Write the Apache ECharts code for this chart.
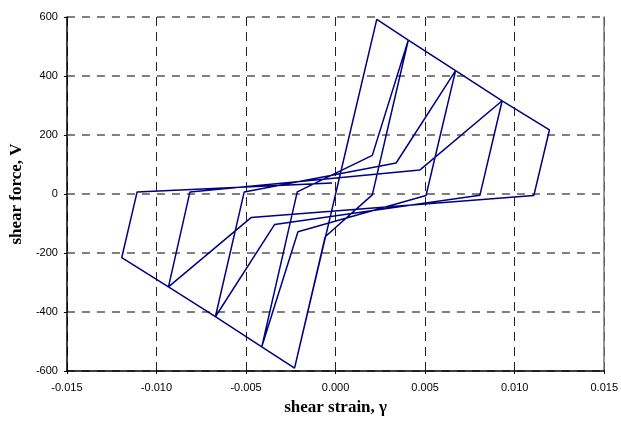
<!DOCTYPE html>
<html>
<head>
<meta charset="utf-8">
<script src="https://cdn.jsdelivr.net/npm/echarts@6/dist/echarts.min.js"></script>
<style>
html,body{margin:0;padding:0;background:#fff;}
#chart{width:621px;height:421px;}
</style>
</head>
<body>
<div id="chart"></div>
<script>
// Hysteresis path: shear strain (gamma) and shear force (V), in drawing order
const strain = [0, 0.0023, -0.00229, 0.0023, 0.00406, 0.00205, -0.00058, -0.00229, -0.00412, -0.00214,
  0.00205, 0.00406, 0.0067, 0.00505, -0.0021, -0.00412, -0.00671, -0.0051, 0.00338, 0.0067,
  0.0093, 0.00806, -0.0034, -0.00671, -0.00933, -0.00813, 0.0047, 0.0093, 0.01194, 0.01107,
  -0.00472, -0.00933, -0.01194, -0.01108, -0.0002];
const force = [0, 592, -590, 592, 522, -3, -145, -590, -518, 7,
  131, 522, 418, -5, -128, -518, -416, 7, 105, 418,
  316, -4, -103, -416, -315, 7, 81, 316, 217, -5,
  -80, -315, -216, 7, 37];

const xTicks = [-0.015, -0.010, -0.005, 0.000, 0.005, 0.010, 0.015];
const yTicks = [-600, -400, -200, 0, 200, 400, 600];

const points = strain.map((x, i) => [x, force[i]]);

const chart = echarts.init(document.getElementById('chart'), null, {renderer: 'canvas'});
chart.setOption({
  animation: false,
  backgroundColor: '#fff',
  grid: {left: 64, right: 14, top: 17, bottom: 48, containLabel: false},
  xAxis: {
    type: 'value',
    min: xTicks[0], max: xTicks[xTicks.length - 1], interval: 0.005,
    name: 'shear strain, γ',
    nameLocation: 'middle', nameGap: 28,
    nameTextStyle: {fontFamily: 'Liberation Serif', fontWeight: 'bold', fontSize: 17, color: '#000'},
    axisLine: {show: true, onZero: false, lineStyle: {color: '#000', width: 1.5}},
    axisTick: {show: true, length: 3, inside: false, lineStyle: {color: '#000'}},
    axisLabel: {margin: 11, fontFamily: 'Liberation Sans', fontSize: 11, color: '#000',
      formatter: v => (Math.abs(v) < 1e-9 ? 0 : v).toFixed(3)},
    splitLine: {show: true, lineStyle: {color: '#222', width: 1, type: [9, 6]}}
  },
  yAxis: [{
    type: 'value',
    min: yTicks[0], max: yTicks[yTicks.length - 1], interval: 200,
    name: 'shear force, V',
    nameLocation: 'middle', nameGap: 38,
    nameTextStyle: {fontFamily: 'Liberation Serif', fontWeight: 'bold', fontSize: 17, color: '#000'},
    axisLine: {show: true, onZero: false, lineStyle: {color: '#000', width: 1.5}},
    axisTick: {show: true, length: 3, lineStyle: {color: '#000'}},
    axisLabel: {margin: 9, fontFamily: 'Liberation Sans', fontSize: 11, color: '#000'},
    splitLine: {show: true, lineStyle: {color: '#555', width: 1.5, type: [8, 7]}}
  }, {
    type: 'value', position: 'right',
    min: yTicks[0], max: yTicks[yTicks.length - 1], interval: 200,
    axisLine: {show: true, onZero: false, lineStyle: {color: '#777', width: 1.5}},
    axisTick: {show: false}, axisLabel: {show: false}, splitLine: {show: false}
  }],
  series: [{
    type: 'line',
    data: points,
    showSymbol: false,
    symbol: 'none',
    lineStyle: {color: '#000080', width: 1.5},
    clip: false
  }]
});
</script>
</body>
</html>
